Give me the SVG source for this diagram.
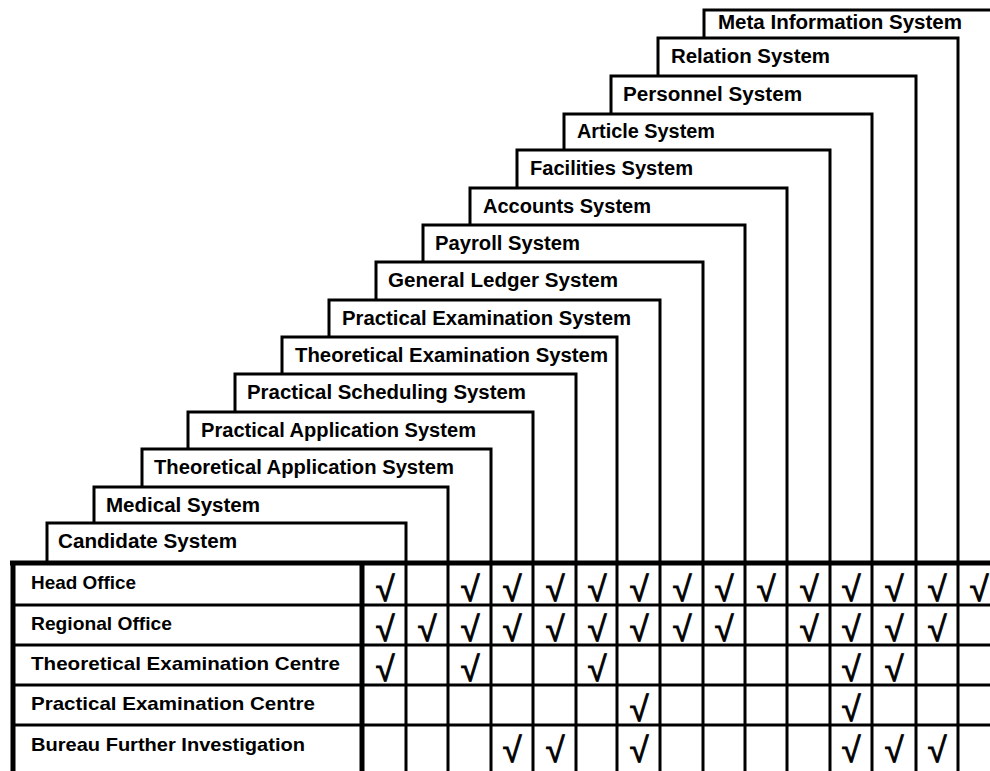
<svg xmlns="http://www.w3.org/2000/svg" width="990" height="771" viewBox="0 0 990 771">
<style>
.box{fill:#fff;stroke:#000;stroke-width:3}
.lbl{font-family:"Liberation Sans",Arial,sans-serif;font-weight:bold;font-size:20px;fill:#000}
.rl{font-family:"Liberation Sans",Arial,sans-serif;font-weight:bold;font-size:19px;fill:#000}
.ck{font-family:"Liberation Sans",Arial,sans-serif;font-size:35px;fill:#000;stroke:#000;stroke-width:0.8;text-anchor:middle}
.g{stroke:#000;stroke-width:3;fill:none}
.gt{stroke:#000;stroke-width:5;fill:none}
</style>
<rect x="0" y="0" width="990" height="771" fill="#fff"/>
<g id="meta-information-system"><rect class="box" x="704" y="10" width="300" height="553"/><text class="lbl" x="718" y="29" textLength="244" lengthAdjust="spacingAndGlyphs">Meta Information System</text></g>
<g id="relation-system"><rect class="box" x="658" y="38" width="300" height="525"/><text class="lbl" x="671" y="63" textLength="159" lengthAdjust="spacingAndGlyphs">Relation System</text></g>
<g id="personnel-system"><rect class="box" x="611" y="76" width="305" height="487"/><text class="lbl" x="623" y="101" textLength="179" lengthAdjust="spacingAndGlyphs">Personnel System</text></g>
<g id="article-system"><rect class="box" x="564" y="114" width="308" height="449"/><text class="lbl" x="577" y="138" textLength="138" lengthAdjust="spacingAndGlyphs">Article System</text></g>
<g id="facilities-system"><rect class="box" x="517" y="150" width="313" height="413"/><text class="lbl" x="530" y="175" textLength="163" lengthAdjust="spacingAndGlyphs">Facilities System</text></g>
<g id="accounts-system"><rect class="box" x="470" y="188" width="317" height="375"/><text class="lbl" x="483" y="213" textLength="168" lengthAdjust="spacingAndGlyphs">Accounts System</text></g>
<g id="payroll-system"><rect class="box" x="423" y="225" width="322" height="338"/><text class="lbl" x="435" y="250" textLength="145" lengthAdjust="spacingAndGlyphs">Payroll System</text></g>
<g id="general-ledger-system"><rect class="box" x="376" y="262" width="327" height="301"/><text class="lbl" x="388" y="287" textLength="230" lengthAdjust="spacingAndGlyphs">General Ledger System</text></g>
<g id="practical-examination-system"><rect class="box" x="329" y="300" width="331" height="263"/><text class="lbl" x="342" y="325" textLength="289" lengthAdjust="spacingAndGlyphs">Practical Examination System</text></g>
<g id="theoretical-examination-system"><rect class="box" x="282" y="337" width="335" height="226"/><text class="lbl" x="295" y="362" textLength="313" lengthAdjust="spacingAndGlyphs">Theoretical Examination System</text></g>
<g id="practical-scheduling-system"><rect class="box" x="235" y="374" width="341" height="189"/><text class="lbl" x="247" y="399" textLength="279" lengthAdjust="spacingAndGlyphs">Practical Scheduling System</text></g>
<g id="practical-application-system"><rect class="box" x="188" y="412" width="345" height="151"/><text class="lbl" x="201" y="437" textLength="275" lengthAdjust="spacingAndGlyphs">Practical Application System</text></g>
<g id="theoretical-application-system"><rect class="box" x="142" y="449" width="349" height="114"/><text class="lbl" x="154" y="474" textLength="300" lengthAdjust="spacingAndGlyphs">Theoretical Application System</text></g>
<g id="medical-system"><rect class="box" x="94" y="487" width="354" height="76"/><text class="lbl" x="106" y="512" textLength="154" lengthAdjust="spacingAndGlyphs">Medical System</text></g>
<g id="candidate-system"><rect class="box" x="47" y="523" width="359" height="40"/><text class="lbl" x="58" y="548" textLength="179" lengthAdjust="spacingAndGlyphs">Candidate System</text></g>
<g id="table-grid">
<path class="g" d="M406 563V771M448 563V771M491 563V771M533 563V771M576 563V771M617 563V771M660 563V771M703 563V771M745 563V771M787 563V771M830 563V771M872 563V771M916 563V771M958 563V771"/>
<path class="g" d="M13 605H990M13 645H990M13 685H990M13 725H990"/>
<path class="gt" d="M10 563H990M13 563V771M362 563V771"/>
</g>
<g id="row-head-office"><text class="rl" x="31" y="589" textLength="105" lengthAdjust="spacingAndGlyphs">Head Office</text>
<text class="ck" y="601"><tspan x="385">√</tspan><tspan x="470">√</tspan><tspan x="512">√</tspan><tspan x="555">√</tspan><tspan x="597">√</tspan><tspan x="639">√</tspan><tspan x="682">√</tspan><tspan x="724">√</tspan><tspan x="766">√</tspan><tspan x="809">√</tspan><tspan x="851">√</tspan><tspan x="894">√</tspan><tspan x="937">√</tspan><tspan x="979">√</tspan></text></g>
<g id="row-regional-office"><text class="rl" x="31" y="630" textLength="141" lengthAdjust="spacingAndGlyphs">Regional Office</text>
<text class="ck" y="641"><tspan x="385">√</tspan><tspan x="427">√</tspan><tspan x="470">√</tspan><tspan x="512">√</tspan><tspan x="555">√</tspan><tspan x="597">√</tspan><tspan x="639">√</tspan><tspan x="682">√</tspan><tspan x="724">√</tspan><tspan x="809">√</tspan><tspan x="851">√</tspan><tspan x="894">√</tspan><tspan x="937">√</tspan></text></g>
<g id="row-theoretical-examination-centre"><text class="rl" x="31" y="670" textLength="309" lengthAdjust="spacingAndGlyphs">Theoretical Examination Centre</text>
<text class="ck" y="681"><tspan x="385">√</tspan><tspan x="470">√</tspan><tspan x="597">√</tspan><tspan x="851">√</tspan><tspan x="894">√</tspan></text></g>
<g id="row-practical-examination-centre"><text class="rl" x="31" y="710" textLength="284" lengthAdjust="spacingAndGlyphs">Practical Examination Centre</text>
<text class="ck" y="721"><tspan x="639">√</tspan><tspan x="851">√</tspan></text></g>
<g id="row-bureau-further-investigation"><text class="rl" x="31" y="751" textLength="274" lengthAdjust="spacingAndGlyphs">Bureau Further Investigation</text>
<text class="ck" y="762"><tspan x="512">√</tspan><tspan x="555">√</tspan><tspan x="639">√</tspan><tspan x="851">√</tspan><tspan x="894">√</tspan><tspan x="937">√</tspan></text></g>
</svg>
